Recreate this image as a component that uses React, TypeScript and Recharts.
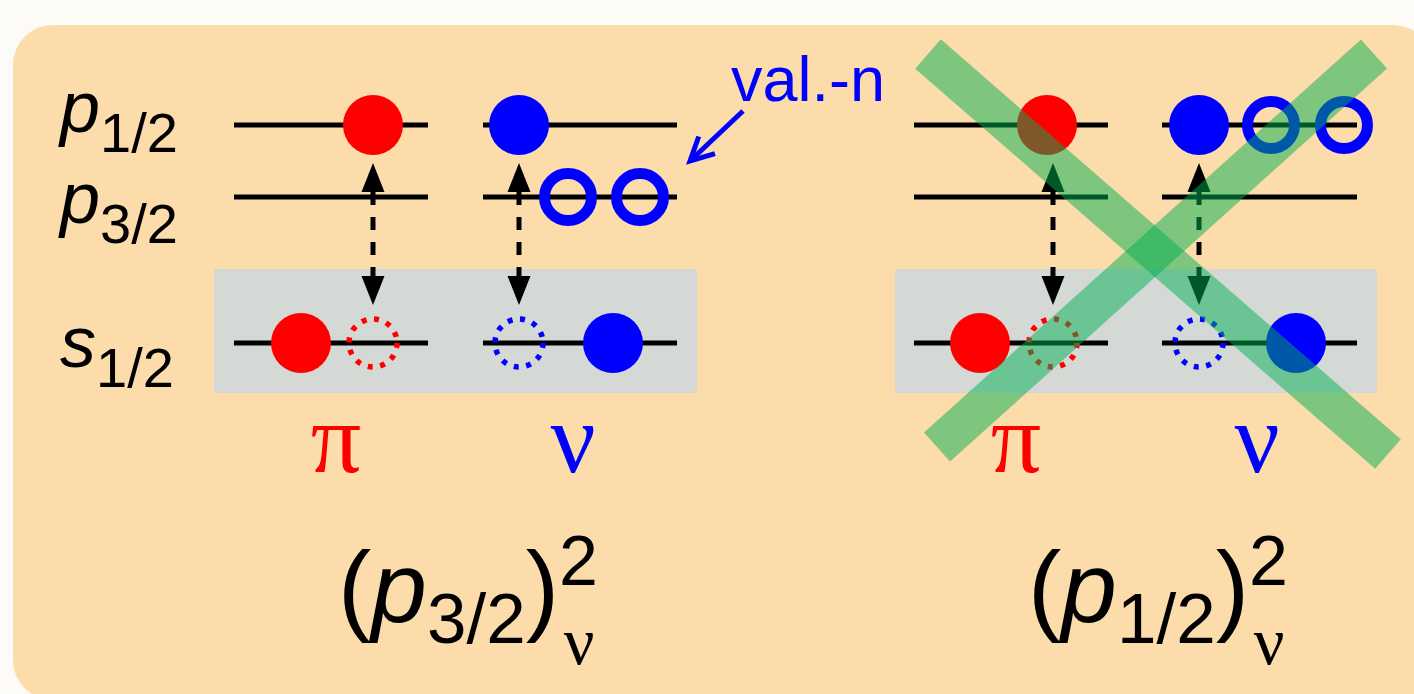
import {
  ComposedChart,
  XAxis,
  YAxis,
  Scatter,
  ReferenceArea,
  ReferenceLine,
  ReferenceDot,
} from 'recharts'

// diagram frame: x runs 0..1414, y (energy, drawn downwards) 0..694
const W = 1414
const H = 694

// single-particle levels
const LEVEL_NAMES = ['p', 'p', 's']
const LEVEL_J = ['1/2', '3/2', '1/2']
const LEVEL_Y = [125, 197, 343]
const LEVEL_LABEL_Y = [132, 223, 367]
const LEVEL_LABEL_X = 60

// level bars: [π left, ν left, π right, ν right]
const BAR_START = [234, 483, 914, 1162]
const BAR_END = [428, 677, 1108, 1357]

// shaded core (s1/2) boxes
const CORE_X1 = [214, 895]
const CORE_X2 = [697, 1377]
const CORE_Y = [269, 393]

// nucleons: kind = filled particle, ring (valence neutron), hole
const PARTICLES = [
  { x: 373, y: 125, kind: 'fill', t: 'pi' },
  { x: 301, y: 343, kind: 'fill', t: 'pi' },
  { x: 373, y: 343, kind: 'hole', t: 'pi' },
  { x: 519, y: 125, kind: 'fill', t: 'nu' },
  { x: 568, y: 197, kind: 'ring', t: 'nu' },
  { x: 640, y: 197, kind: 'ring', t: 'nu' },
  { x: 519, y: 343, kind: 'hole', t: 'nu' },
  { x: 613, y: 343, kind: 'fill', t: 'nu' },
  { x: 1047, y: 125, kind: 'fill', t: 'pi' },
  { x: 980, y: 343, kind: 'fill', t: 'pi' },
  { x: 1053, y: 343, kind: 'hole', t: 'pi' },
  { x: 1199, y: 125, kind: 'fill', t: 'nu' },
  { x: 1271, y: 125, kind: 'ring', t: 'nu' },
  { x: 1344, y: 125, kind: 'ring', t: 'nu' },
  { x: 1199, y: 343, kind: 'hole', t: 'nu' },
  { x: 1296, y: 343, kind: 'fill', t: 'nu' },
]

// excitation arrows s1/2 <-> p1/2
const EXC_X = [373, 519, 1053, 1199]
const EXC_Y = [163, 305]

const SPECIES = ['π', 'ν', 'π', 'ν']
const SPECIES_X = [336, 573, 1016, 1257]
const SPECIES_Y = 472

const CONFIG_J = ['3/2', '1/2']
const CONFIG_X = [338, 1028]
const CONFIG_Y = 622

const NOTE = 'val.-n'
const NOTE_POS = { x: 731, y: 101 }
const NOTE_ARROW = [
  { x: 743, y: 111 },
  { x: 690, y: 161 },
]

const CROSS = [
  [{ x: 928, y: 54 }, { x: 1388, y: 454 }],
  [{ x: 1374, y: 54 }, { x: 937, y: 447 }],
]

const COLORS: Record<string, string> = { pi: '#ff0000', nu: '#0000ff' }
const SANS = 'Liberation Sans, Arial, sans-serif'
const SERIF = 'Liberation Serif, Times New Roman, serif'

const ParticleShape = (p: any) => {
  const { cx, cy, payload } = p
  const c = COLORS[payload.t]
  if (payload.kind === 'fill') return <circle cx={cx} cy={cy} r={30} fill={c} />
  if (payload.kind === 'ring')
    return <circle cx={cx} cy={cy} r={23.5} fill="none" stroke={c} strokeWidth={11} />
  return (
    <circle cx={cx} cy={cy} r={24} fill="none" stroke={c} strokeWidth={5.5} strokeDasharray="5 7.6" />
  )
}

const DoubleArrow = (p: any) => {
  const x = p.x1
  const top = Math.min(p.y1, p.y2)
  const bot = Math.max(p.y1, p.y2)
  const head = 29
  const half = 11.5
  return (
    <g>
      <line x1={x} y1={top + head} x2={x} y2={bot - head} stroke="#000" strokeWidth={5} strokeDasharray="13 12" />
      <polygon points={`${x},${top} ${x - half},${top + head} ${x + half},${top + head}`} fill="#000" />
      <polygon points={`${x},${bot} ${x - half},${bot - head} ${x + half},${bot - head}`} fill="#000" />
    </g>
  )
}

const NoteArrow = (p: any) => {
  const { x1, y1, x2, y2 } = p
  const ang = Math.atan2(y1 - y2, x1 - x2)
  const len = 26
  const a = (27 * Math.PI) / 180
  const w1 = { x: x2 + len * Math.cos(ang - a), y: y2 + len * Math.sin(ang - a) }
  const w2 = { x: x2 + len * Math.cos(ang + a), y: y2 + len * Math.sin(ang + a) }
  return (
    <g fill="none" stroke="#0000ff" strokeWidth={5}>
      <line x1={x1} y1={y1} x2={x2} y2={y2} />
      <polyline points={`${w1.x},${w1.y} ${x2},${y2} ${w2.x},${w2.y}`} strokeLinejoin="miter" />
    </g>
  )
}

const CrossBand = (p: any) => (
  <line x1={p.x1} y1={p.y1} x2={p.x2} y2={p.y2} stroke="rgb(0,175,82)" strokeOpacity={0.5} strokeWidth={39} />
)

export default function App() {
  return (
    <div style={{ position: 'absolute', left: 0, top: 0, width: W, height: H, background: '#fdfbf8' }}>
      <ComposedChart width={W} height={H} margin={{ top: 0, right: 0, bottom: 0, left: 0 }}>
        <XAxis type="number" dataKey="x" domain={[0, W]} hide />
        <YAxis type="number" dataKey="y" domain={[0, H]} reversed hide />

        {/* background panel */}
        <ReferenceArea
          x1={13}
          x2={1433}
          y1={25}
          y2={700}
          ifOverflow="visible"
          zIndex={10}
          shape={(r: any) => (
            <rect x={r.x} y={r.y} width={r.width} height={r.height} rx={40} ry={40} fill="#fddcab" />
          )}
        />

        {CORE_X1.map((x1, i) => (
          <ReferenceArea
            key={`core${i}`}
            x1={x1}
            x2={CORE_X2[i]}
            y1={CORE_Y[0]}
            y2={CORE_Y[1]}
            zIndex={20}
            fill="#d5d9d6"
            fillOpacity={1}
            stroke="none"
          />
        ))}

        {LEVEL_Y.flatMap((y, li) =>
          BAR_START.map((x0, bi) => (
            <ReferenceLine
              key={`lv${li}-${bi}`}
              segment={[
                { x: x0, y },
                { x: BAR_END[bi], y },
              ]}
              stroke="#000"
              strokeWidth={5}
              zIndex={30}
            />
          )),
        )}

        {EXC_X.map((x, i) => (
          <ReferenceLine
            key={`exc${i}`}
            segment={[
              { x, y: EXC_Y[0] },
              { x, y: EXC_Y[1] },
            ]}
            zIndex={40}
            shape={DoubleArrow}
          />
        ))}

        <Scatter data={PARTICLES} dataKey="y" isAnimationActive={false} shape={ParticleShape} zIndex={50} />

        {LEVEL_NAMES.map((n, i) => (
          <ReferenceDot
            key={`ll${i}`}
            x={LEVEL_LABEL_X}
            y={LEVEL_LABEL_Y[i]}
            zIndex={60}
            shape={(d: any) => (
              <text x={d.cx} y={d.cy} fontFamily={SANS} fontSize={72} fill="#000">
                <tspan fontStyle="italic">{n}</tspan>
                <tspan fontSize={56} dy={20}>
                  {LEVEL_J[i]}
                </tspan>
              </text>
            )}
          />
        ))}

        {SPECIES.map((s, i) => (
          <ReferenceDot
            key={`sp${i}`}
            x={SPECIES_X[i]}
            y={SPECIES_Y}
            zIndex={60}
            shape={(d: any) => (
              <text x={d.cx} y={d.cy} textAnchor="middle" fontFamily={SERIF} fontSize={100} fill={i % 2 ? '#0000ff' : '#ff0000'}>
                {s}
              </text>
            )}
          />
        ))}

        {CONFIG_J.map((j, i) => (
          <ReferenceDot
            key={`cf${i}`}
            x={CONFIG_X[i]}
            y={CONFIG_Y}
            zIndex={60}
            shape={(d: any) => (
              <g fill="#000">
                <text x={d.cx} y={d.cy} fontFamily={SANS} fontSize={100}>
                  <tspan>(</tspan>
                  <tspan fontStyle="italic">p</tspan>
                  <tspan fontSize={71} dy={21}>
                    {j}
                  </tspan>
                  <tspan dy={-21}>)</tspan>
                </text>
                <text x={d.cx + 221} y={d.cy - 37} fontFamily={SANS} fontSize={70}>
                  2
                </text>
                <text x={d.cx + 241} y={d.cy + 42} textAnchor="middle" fontFamily={SERIF} fontSize={68}>
                  ν
                </text>
              </g>
            )}
          />
        ))}

        <ReferenceDot
          x={NOTE_POS.x}
          y={NOTE_POS.y}
          zIndex={60}
          shape={(d: any) => (
            <text x={d.cx} y={d.cy} fontFamily={SANS} fontSize={63} fill="#0000ff">
              {NOTE}
            </text>
          )}
        />
        <ReferenceLine segment={NOTE_ARROW} zIndex={60} shape={NoteArrow} />

        {CROSS.map((seg, i) => (
          <ReferenceLine key={`x${i}`} segment={seg} zIndex={70} shape={CrossBand} />
        ))}
      </ComposedChart>
    </div>
  )
}
